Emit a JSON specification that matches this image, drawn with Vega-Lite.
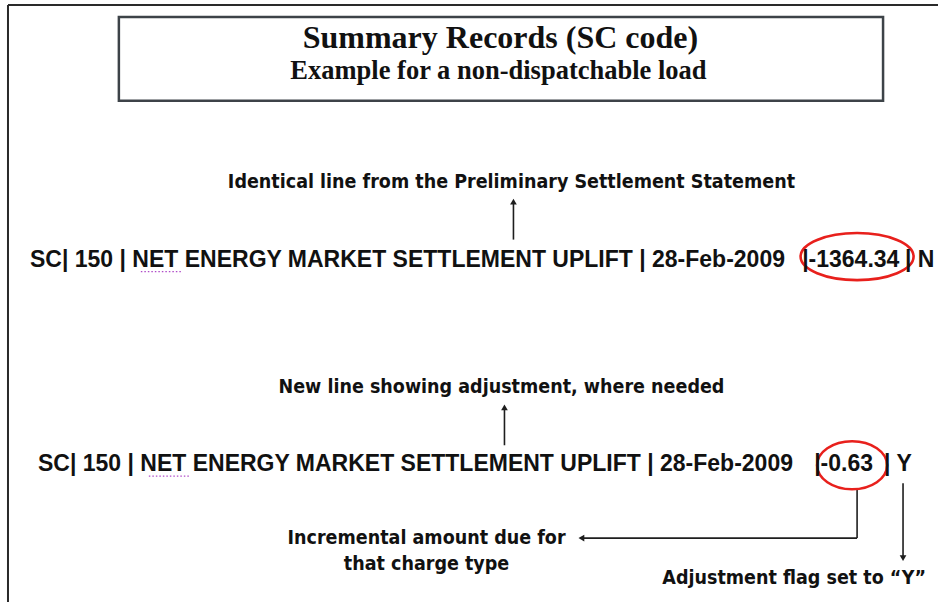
{
  "$schema": "https://vega.github.io/schema/vega-lite/v6.json",
  "width": 939,
  "height": 603,
  "autosize": {"type": "fit", "contains": "padding"},
  "padding": 0,
  "background": "white",
  "config": {"view": {"stroke": null}},
  "datasets": {
    "boxes": [{"x": 119, "x2": 884, "y": 17, "y2": 101}],
    "rules": [
      {"x": 8, "y": 5, "x2": 939, "y2": 5, "kind": "frame"},
      {"x": 8, "y": 5, "x2": 8, "y2": 603, "kind": "frame"},
      {"x": 514, "y": 240, "x2": 514, "y2": 202, "kind": "arrow"},
      {"x": 505, "y": 446, "x2": 505, "y2": 408, "kind": "arrow"},
      {"x": 858, "y": 490, "x2": 858, "y2": 539, "kind": "arrow"},
      {"x": 858, "y": 539, "x2": 584, "y2": 539, "kind": "arrow"},
      {"x": 904, "y": 484, "x2": 904, "y2": 558, "kind": "arrow"}
    ],
    "heads": [
      {"x": 514, "y": 202, "dir": "up"},
      {"x": 505, "y": 408, "dir": "up"},
      {"x": 582, "y": 539, "dir": "left"},
      {"x": 904, "y": 559, "dir": "down"}
    ],
    "underlines": [
      {"x": 141, "x2": 182, "y": 272},
      {"x": 149, "x2": 190, "y": 477}
    ],
    "ellipses": [
      {"x": 858, "y": 257, "w": "wide"},
      {"x": 853, "y": 466, "w": "narrow"}
    ],
    "texts": [
      {"x": 501, "y": 48, "label": "Summary Records (SC code)", "kind": "title"},
      {"x": 499, "y": 79, "label": "Example for a non-dispatchable load", "kind": "subtitle"},
      {"x": 512, "y": 188, "label": "Identical line from the Preliminary Settlement Statement", "kind": "note"},
      {"x": 502, "y": 394, "label": "New line showing adjustment, where needed", "kind": "note"},
      {"x": 427, "y": 545, "label": "Incremental amount due for", "kind": "note"},
      {"x": 427, "y": 571, "label": "that charge type", "kind": "note"},
      {"x": 795, "y": 585, "label": "Adjustment flag set to \u201cY\u201d", "kind": "note"},
      {"x": 30, "y": 267, "label": "SC| 150 | NET ENERGY MARKET SETTLEMENT UPLIFT | 28-Feb-2009", "kind": "record"},
      {"x": 803, "y": 267, "label": "|-1364.34", "kind": "record"},
      {"x": 906, "y": 267, "label": "| N", "kind": "record"},
      {"x": 38, "y": 472, "label": "SC| 150 | NET ENERGY MARKET SETTLEMENT UPLIFT | 28-Feb-2009", "kind": "record"},
      {"x": 815, "y": 472, "label": "|-0.63", "kind": "record"},
      {"x": 885, "y": 472, "label": "| Y", "kind": "record"}
    ]
  },
  "layer": [
    {
      "data": {"name": "boxes"},
      "mark": {"type": "rect", "fill": null, "stroke": "#3d4348", "strokeWidth": 2.5},
      "encoding": {
        "x": {"field": "x", "type": "quantitative", "scale": {"domain": [0, 939], "nice": false, "zero": false}, "axis": null},
        "x2": {"field": "x2"},
        "y": {"field": "y", "type": "quantitative", "scale": {"domain": [0, 603], "nice": false, "zero": false, "reverse": true}, "axis": null},
        "y2": {"field": "y2"}
      }
    },
    {
      "data": {"name": "rules"},
      "transform": [{"filter": "datum.kind === 'frame'"}],
      "mark": {"type": "rule", "stroke": "#2a2a2a", "strokeWidth": 2},
      "encoding": {
        "x": {"field": "x", "type": "quantitative", "axis": null},
        "x2": {"field": "x2"},
        "y": {"field": "y", "type": "quantitative", "axis": null},
        "y2": {"field": "y2"}
      }
    },
    {
      "data": {"name": "rules"},
      "transform": [{"filter": "datum.kind === 'arrow'"}],
      "mark": {"type": "rule", "stroke": "#1e1e1e", "strokeWidth": 1.6},
      "encoding": {
        "x": {"field": "x", "type": "quantitative", "axis": null},
        "x2": {"field": "x2"},
        "y": {"field": "y", "type": "quantitative", "axis": null},
        "y2": {"field": "y2"}
      }
    },
    {
      "data": {"name": "heads"},
      "transform": [{"filter": "datum.dir === 'up'"}],
      "mark": {"type": "point", "shape": "triangle-up", "filled": true, "color": "#1e1e1e", "size": 45, "opacity": 1},
      "encoding": {
        "x": {"field": "x", "type": "quantitative", "axis": null},
        "y": {"field": "y", "type": "quantitative", "axis": null}
      }
    },
    {
      "data": {"name": "heads"},
      "transform": [{"filter": "datum.dir === 'down'"}],
      "mark": {"type": "point", "shape": "triangle-down", "filled": true, "color": "#1e1e1e", "size": 45, "opacity": 1},
      "encoding": {
        "x": {"field": "x", "type": "quantitative", "axis": null},
        "y": {"field": "y", "type": "quantitative", "axis": null}
      }
    },
    {
      "data": {"name": "heads"},
      "transform": [{"filter": "datum.dir === 'left'"}],
      "mark": {"type": "point", "shape": "triangle-left", "filled": true, "color": "#1e1e1e", "size": 45, "opacity": 1},
      "encoding": {
        "x": {"field": "x", "type": "quantitative", "axis": null},
        "y": {"field": "y", "type": "quantitative", "axis": null}
      }
    },
    {
      "data": {"name": "underlines"},
      "mark": {"type": "rule", "stroke": "#b04cc8", "strokeWidth": 1.2, "strokeDash": [1.5, 2]},
      "encoding": {
        "x": {"field": "x", "type": "quantitative", "axis": null},
        "x2": {"field": "x2"},
        "y": {"field": "y", "type": "quantitative", "axis": null}
      }
    },
    {
      "data": {"name": "ellipses"},
      "transform": [{"filter": "datum.w === 'wide'"}],
      "mark": {"type": "point", "shape": "M -1 0 A 1 0.416 0 1 0 1 0 A 1 0.416 0 1 0 -1 0 Z", "filled": false, "stroke": "#e8201c", "strokeWidth": 2.6, "size": 12769, "opacity": 1},
      "encoding": {
        "x": {"field": "x", "type": "quantitative", "axis": null},
        "y": {"field": "y", "type": "quantitative", "axis": null}
      }
    },
    {
      "data": {"name": "ellipses"},
      "transform": [{"filter": "datum.w === 'narrow'"}],
      "mark": {"type": "point", "shape": "M -1 0 A 1 0.686 0 1 0 1 0 A 1 0.686 0 1 0 -1 0 Z", "filled": false, "stroke": "#e8201c", "strokeWidth": 2.6, "size": 4900, "opacity": 1},
      "encoding": {
        "x": {"field": "x", "type": "quantitative", "axis": null},
        "y": {"field": "y", "type": "quantitative", "axis": null}
      }
    },
    {
      "data": {"name": "texts"},
      "transform": [{"filter": "datum.kind === 'title'"}],
      "mark": {"type": "text", "font": "Liberation Serif", "fontWeight": "bold", "fontSize": 32, "align": "center", "baseline": "alphabetic", "color": "#111111"},
      "encoding": {
        "x": {"field": "x", "type": "quantitative", "axis": null},
        "y": {"field": "y", "type": "quantitative", "axis": null},
        "text": {"field": "label"}
      }
    },
    {
      "data": {"name": "texts"},
      "transform": [{"filter": "datum.kind === 'subtitle'"}],
      "mark": {"type": "text", "font": "Liberation Serif", "fontWeight": "bold", "fontSize": 26.5, "align": "center", "baseline": "alphabetic", "color": "#111111"},
      "encoding": {
        "x": {"field": "x", "type": "quantitative", "axis": null},
        "y": {"field": "y", "type": "quantitative", "axis": null},
        "text": {"field": "label"}
      }
    },
    {
      "data": {"name": "texts"},
      "transform": [{"filter": "datum.kind === 'note'"}],
      "mark": {"type": "text", "font": "'Liberation Sans Narrow', 'DejaVu Sans Condensed', 'Roboto Condensed', 'Liberation Sans', sans-serif", "fontWeight": "bold", "fontSize": 19.5, "align": "center", "baseline": "alphabetic", "color": "#111111"},
      "encoding": {
        "x": {"field": "x", "type": "quantitative", "axis": null},
        "y": {"field": "y", "type": "quantitative", "axis": null},
        "text": {"field": "label"}
      }
    },
    {
      "data": {"name": "texts"},
      "transform": [{"filter": "datum.kind === 'record'"}],
      "mark": {"type": "text", "font": "Liberation Sans", "fontWeight": "bold", "fontSize": 23, "align": "left", "baseline": "alphabetic", "color": "#111111"},
      "encoding": {
        "x": {"field": "x", "type": "quantitative", "axis": null},
        "y": {"field": "y", "type": "quantitative", "axis": null},
        "text": {"field": "label"}
      }
    }
  ]
}
